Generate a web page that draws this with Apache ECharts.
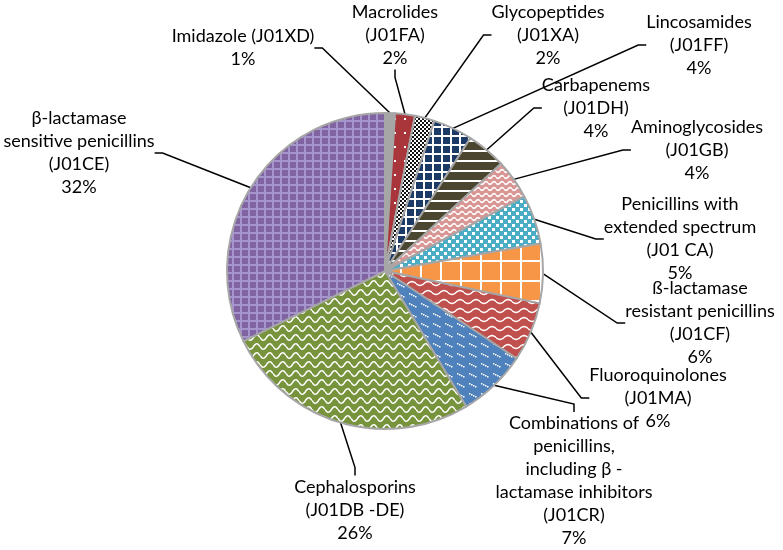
<!DOCTYPE html>
<html>
<head>
<meta charset="utf-8">
<script src="https://cdn.jsdelivr.net/npm/echarts@6/dist/echarts.min.js"></script>
<style>
  html, body { margin: 0; padding: 0; background: #fff; }
  #chart { width: 783px; height: 550px; }
</style>
</head>
<body>
<div id="chart"></div>
<script>
// antibiotic classes, clockwise from 12 o'clock
var classNames = [
  'Imidazole (J01XD)',
  'Macrolides\n(J01FA)',
  'Glycopeptides\n(J01XA)',
  'Lincosamides\n(J01FF)',
  'Carbapenems\n(J01DH)',
  'Aminoglycosides\n(J01GB)',
  'Penicillins with\nextended spectrum\n(J01 CA)',
  'ß-lactamase\nresistant penicillins\n(J01CF)',
  'Fluoroquinolones\n(J01MA)',
  'Combinations of\npenicillins,\nincluding β -\nlactamase inhibitors\n(J01CR)',
  'Cephalosporins\n(J01DB -DE)',
  'β-lactamase\nsensitive penicillins\n(J01CE)'
];
var shares = [1, 2, 2, 4, 4, 4, 5, 6, 6, 7, 26, 32];

// label block centres (px), Excel-style manual placement
var labelPos = [
  [243, 48], [395, 35], [548, 35], [699, 45], [596, 108], [697, 150],
  [680, 239], [700, 323], [658, 398], [574, 481], [355, 510], [79, 153]
];

function tile(w, h, bg, draw) {
  var c = document.createElement('canvas');
  c.width = w; c.height = h;
  var g = c.getContext('2d');
  g.fillStyle = bg;
  g.fillRect(0, 0, w, h);
  if (draw) draw(g);
  return { image: c, repeat: 'repeat' };
}
function grid(w, bg, fg, lw) {
  return tile(w, w, bg, function (g) {
    g.fillStyle = fg;
    g.fillRect(0, 0, w, lw);
    g.fillRect(0, 0, lw, w);
  });
}
function wave(w, h, amp, bg, fg, lw) {
  return tile(w, h, bg, function (g) {
    g.strokeStyle = fg; g.lineWidth = lw;
    g.beginPath();
    for (var x = 0; x <= w; x++) {
      var y = h / 2 + amp * Math.sin(x / w * Math.PI * 2);
      if (x === 0) g.moveTo(x, y); else g.lineTo(x, y);
    }
    g.stroke();
  });
}

var fills = [
  '#a6a6a6',
  tile(10, 14, '#a8363a', function (g) { g.fillStyle = '#fff'; g.fillRect(4, 6, 2, 2); }),
  tile(4, 4, '#ffffff', function (g) { g.fillStyle = '#111'; g.fillRect(0, 0, 2, 2); g.fillRect(2, 2, 2, 2); }),
  grid(9, '#1b3a66', '#ffffff', 2),
  tile(10, 10, '#4b4630', function (g) { g.fillStyle = '#fff'; g.fillRect(0, 0, 10, 2); }),
  wave(8, 6, 1.5, '#d99694', '#ffffff', 1.5),
  tile(8, 8, '#4bacc6', function (g) { g.fillStyle = '#fff'; g.fillRect(0, 0, 3, 3); g.fillRect(4, 4, 3, 3); }),
  grid(20, '#f79646', '#ffffff', 2),
  wave(16, 9, 2, '#c0504d', '#ffffff', 1.5),
  tile(12, 10, '#4f81bd', function (g) {
    g.fillStyle = '#fff';
    for (var i = 0; i < 4; i++) g.fillRect(1 + i * 2, 3 + i, 1.5, 1.5);
  }),
  wave(13, 9, 2.8, '#77933c', '#ffffff', 1.5),
  grid(8, '#8064a2', '#a595cc', 2)
];

var chart = echarts.init(document.getElementById('chart'));

var pieData = shares.map(function (v, i) {
  return { name: classNames[i], value: v, itemStyle: { color: fills[i] } };
});

var option = {
  animation: false,
  series: [{
    type: 'pie',
    center: [385, 271],
    radius: 158,
    startAngle: 90,
    clockwise: true,
    avoidLabelOverlap: false,
    data: pieData,
    itemStyle: { borderColor: '#a6a6a6', borderWidth: 2 },
    label: {
      show: true,
      position: 'outside',
      formatter: '{b}\n{c}%',
      color: '#000',
      fontFamily: 'Lato',
      fontSize: 18,
      lineHeight: 23,
      align: 'center'
    },
    labelLine: {
      show: true,
      length: 10,
      length2: 8,
      lineStyle: { color: '#000', width: 1.5 }
    },
    labelLayout: function (p) {
      var pos = labelPos[p.dataIndex];
      return { x: pos[0], y: pos[1], align: 'center', verticalAlign: 'middle', hideOverlap: false };
    },
    emphasis: { disabled: true }
  }]
};
chart.setOption(option);
</script>
</body>
</html>
